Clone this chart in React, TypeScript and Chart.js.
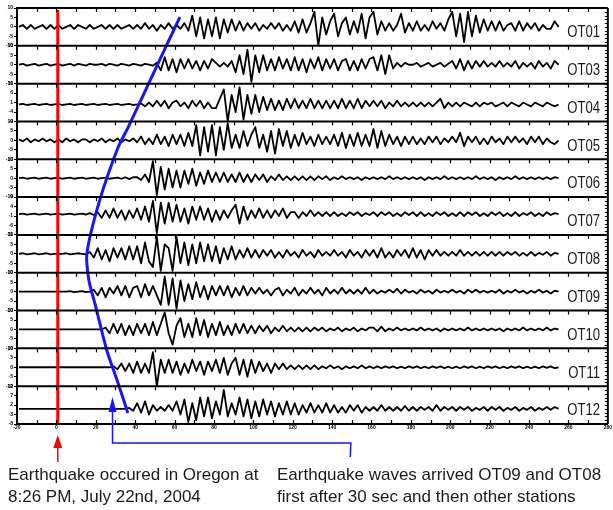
import React, { useEffect, useRef } from 'react';
import { Chart, registerables } from 'chart.js';

Chart.register(...registerables);

// ---- data ----
const stations = ['OT01', 'OT03', 'OT04', 'OT05', 'OT06', 'OT07', 'OT08', 'OT09', 'OT10', 'OT11', 'OT12'];
const T_START = -19; // seconds, first sample
const T_STEP = 2; // seconds between samples

const OT01 = [
  0,1,-1,1,-1,0,1,-1,1,-1, 1,-1,0,1,-1,1,0,-1,1,-1, 0,1,-1,1,-1,1,-1,0,1,-1, 1,-1,2,-1,1,-2,1,-1,2,-1,
  1,-1,2,-2,6,-5,5,-6,4,-5, 5,-6,4,-3,4,-2,3,-2,2,-1, 2,-2,1,-1,2,-1,2,-2,1,-2, 3,-3,4,-3,2,8,-10,5,-4,3,
  7,-5,2,5,-4,3,-3,7,-6,5, 8,-4,3,-2,2,-2,1,7,-3,2, -2,3,-2,1,-2,3,-1,2,-2,4, 8,-5,7,-8,8,-5,6,-3,4,-2,
  3,-2,3,-2,1,2,-2,3,-2,2, -1,2,-2,1,-1,-1,3,0,
];
const OT03 = [
  0,0.5,-0.5,0,0.5,-0.5,0,0.5,-0.5,0, 0.5,-0.5,0,0.5,-0.5,0.5,0,-0.5,0.5,0, 0,0.5,-0.5,0.5,0,-0.5,0.5,0,-0.5,0.5, 0,-0.5,0.5,0,-0.5,1,-3,4,-3,3,
  -4,3,-2,3,-2,2,-3,2,-2,3, 1,-1,1,-1,2,-4,5,-5,8,-9, 5,-4,5,-3,3,-3,4,-2,3,-3, 4,-3,3,-4,3,-2,4,-3,3,-2,
  3,-3,2,3,-3,2,-3,3,-2,3, 4,-3,5,-5,5,-2,1,-1,1,0, 0,1,-1,0,1,-1,0,1,-1,0.5, 2,-2,3,-3,2,-2,2,-1,2,-1,
  1,-1,2,-1,1,-1,2,-2,1,-1, 1,-2,2,-1,1,-2,2,0,
];
const OT04 = [
  0,0.3,-0.3,0,0.3,-0.3,0,0.3,-0.3,0, 0.3,-0.3,0,0.3,-0.3,0,0.3,-0.3,0,0.3, -0.3,0,0.3,-0.3,0,0.3,-0.3,0,0.3,-0.3, 0,0.5,-1,1,-1,2,-1,2,-2,1,
  2,-1,1,-2,2,-1,2,-2,1,-2, -2,3,8,-9,5,-4,9,-8,5,-5, 5,-4,4,-3,3,-3,2,-3,3,-2, 3,-2,2,-2,3,-2,2,-2,2,-2,
  2,-2,3,-2,2,-2,3,-2,2,-1, 2,-1,2,-2,1,-1,2,-1,1,-1, 1,-1,1,-1,1,-1,1,3,-2,1, -1,1,-1,1,0,-1,1,-1,1,0,
  1,-1,0,1,-1,1,0,-1,1,0, -1,1,0,-1,1,0,-1,0,
];
const OT05 = [
  0.5,-0.5,1,-1,0.5,-0.5,1,-0.5,0.5,-1, 0.5,-1,1,-0.5,0.5,-1,0.5,0.5,-1,0.5, -0.5,1,-1,0.5,-0.5,1,-1,0.5,-0.5,1, -1,2,-2,1,-2,3,-2,2,-3,3,
  -2,3,-3,4,-3,8,-8,7,-6,8, -8,7,-5,9,-4,3,-4,5,-3,3, 7,-4,3,-6,5,-7,6,-3,5,-4, 3,-3,4,-2,2,-3,3,-2,2,-2,
  3,-3,4,-4,3,-3,4,-3,3,-3, 6,-4,5,-3,3,-2,2,-3,2,-2, 2,-2,1,-2,2,-1,2,-2,1,-1, 2,-1,4,-3,2,-1,2,-2,1,-2,
  2,-1,1,-2,2,-1,2,-1,1,-2, 2,-1,2,-2,1,-1,-2,0,
];
const OT06 = [
  0,0.3,-0.3,0,0.3,-0.3,0,0.3,-0.3,0, 0.3,-0.3,0,0.3,-0.3,0,0.3,-0.3,0,0.3, -0.3,0,0.3,-0.3,0,0.3,-0.3,0.5,-0.5,0.5, 0.5,-1,2,-2,9,-9,6,-6,5,-5,
  4,-5,4,-3,5,-4,3,-3,4,-2, 3,-2,3,-2,2,-2,3,-2,2,-2, 2,-1,2,-2,1,-1,2,-1,1,-1, 1,-1,1,-1,1,-1,1,-0.5,1,-1,
  0.5,-0.5,1,-0.5,0.5,-0.5,0.5,-1,0.5,-0.5, 0.5,-0.5,0.5,-0.5,1,-0.5,0.5,-0.5,0.5,-0.5, 0.5,-0.5,0.5,-1,0.5,-0.5,0.5,-0.5,1,-0.5, 0.5,-0.5,0.5,-0.5,0.5,-0.5,1,-0.5,0.5,-0.5,
  0.5,-1,0.5,-0.5,0.5,-0.5,1,-0.5,0.5,-0.5, 0.5,-0.5,0.5,-0.5,0.5,-0.5,0.5,0,
];
const OT07 = [
  0,0.3,-0.3,0,0.3,-0.3,0,0.3,-0.3,0, 0.3,-0.3,0,0.3,-0.3,0,0.3,-0.3,0.5,-0.5, 1,-2,2,-2,3,-2,2,-3,2,-2, 3,-3,4,-4,7,-10,6,-5,6,-4,
  5,-4,3,-5,4,-3,4,-3,3,-4, 2,-3,2,-2,2,5,-5,4,-3,2, -2,3,-2,2,-2,2,-1,3,-2,1, 1,-2,1,-1,2,-1,1,-1,1,-1,
  1,-1,0.5,-1,1,-0.5,1,-1,0.5,-0.5, 1,-1,1,-0.5,1,-1,0.5,-1,1,-0.5, 1,-1,1,-1,0.5,-1,1,-0.5,1,-1, 0.5,-1,1,-1,1,-0.5,1,-1,0.5,-1,
  1,-0.5,1,-1,0.5,-1,1,-1,0.5,-0.5, 1,-1,0.5,-1,1,-0.5,0.5,0,
];
const OT08 = [
  0,0.3,-0.3,0,0.3,-0.3,0,0.3,-0.3,0, 0,0,0.3,-0.3,0,0.3,0,-0.3,1,-2, 3,-3,2,-4,3,-2,3,-3,4,-3, 4,-5,6,-4,-7,9,-9,5,3,-9,
  9,-5,6,-6,5,-5,6,-4,5,-4, 4,-5,3,-3,4,-3,2,-2,3,-2, 2,-2,2,-1,2,-2,1,-2,2,-1, 1,-2,2,-1,1,-2,2,-1,1,-1,
  2,-1,1,-2,2,-1,1,-2,2,-1, 2,-2,3,-2,1,-2,2,-1,2,-2, 3,-2,2,-3,2,-1,2,-1,1,-1, 1,-1,2,-1,1,-1,1,-1,1,-1,
  1,-1,1,-1,1,-0.5,1,-1,0.5,-1, 1,-1,0.5,-0.5,1,-1,0.5,0,
];
const OT09 = [
  0,0,0,0,0,0,0,0,0,0, 0,0,0,0.3,-0.3,0,0.3,-0.3,0,1, -2,2,-3,2,-1,3,-2,3,-3,2, 3,-3,4,-2,3,-2,-7,8,-7,7,
  -9,6,-5,4,-4,5,-3,3,-4,3, -2,3,-2,3,-3,2,-2,3,-2,2, -1,2,-1,1,-2,1,2,-2,1,-1, 2,-2,1,-1,2,-1,1,-2,2,-1,
  1,-1,2,-1,1,-1,1,-1,2,-1, 1,-1,0.5,-0.5,1,-0.5,1.5,-1,1,-0.5, 0.5,-1,1,-0.5,0.5,-1,1,-0.5,0.5,-0.5, 1,-0.5,0.5,-1,1,-0.5,1,-0.5,0.5,-0.5,
  0.5,-0.5,1,-1,0.5,-0.5,1,-0.5,0.5,-1, 0.5,-0.5,1,-0.5,0.5,-1,0.5,0,
];
const OT10 = [
  0,0,0,0,0,0,0,0,0,0, 0,0,0,0,0,0,0,0,0,0, 0,0,1,-2,3,-2,3,-3,2,-3, 3,-2,3,-3,4,-3,3,9,-2,-8,
  2,6,-4,3,-4,6,-3,5,-4,3, -3,4,-3,2,-3,3,-2,3,-2,2, -2,2,-1,2,-2,1,-1,2,-1,1, -1,1,-1,1,-1,1,-0.5,1,-1,0.5,
  -0.5,1,-1,0.5,-0.5,1,-1,0.5,-0.5,1, 1,-1,1.5,-1,0.5,-0.5,1,-0.5,0.5,-0.5, 0.5,-0.5,1,-0.5,0.5,-0.5,0.5,-1,0.5,-0.5, 0.5,-0.5,0.5,-0.5,1,-0.5,0.5,-0.5,0.5,-0.5,
  0.5,-0.5,0.5,-1,0.5,-0.5,0.5,-0.5,1,-0.5, 0.5,-0.5,0.5,-0.5,1,-0.5,0.5,0,
];
const OT11 = [
  0,0,0,0,0,0,0,0,0,0, 0,0,0,0,0,0,0,0,0,0, 0,0,0,0,0.5,-1,2,-2,2,-3, 3,-3,2,-3,8,-10,4,-3,4,-3,
  3,-4,2,-3,4,-2,3,-4,3,-2, 4,-3,5,-4,2,5,-4,4,-5,4, -3,3,-2,2,-3,2,-1,2,-1,1, -1,1,-1,1,-1,1,-1,0.5,-0.5,1,
  -0.5,0.5,-1,0.5,-0.5,0.5,-0.5,1,-0.5,0.5, -0.5,0.5,-0.5,0.5,-0.3,0.5,-0.5,0.3,-0.5,0.5, -0.3,0.5,-0.5,0.3,-0.5,0.5,-0.3,0.5,-0.5,0.3, -0.5,0.3,-0.5,0.5,-0.3,0.5,-0.5,0.3,-0.5,0.5,
  -0.3,0.5,-0.5,0.3,-0.5,0.5,-0.3,0.5,-0.5,0.3, -0.5,0.3,-0.5,0.5,-0.3,0.5,-0.5,0,
];
const OT12 = [
  0,0,0,0,0,0,0,0,0,0, 0,0,0,0,0,0,0,0,0,0, 0,0,0,0,0,0,0,0,0.5,-1, 3,-2,4,-3,2,-1,1,-1,2,-1,
  4,-3,5,-7,3,-6,6,-4,6,-5, 4,-3,10,-4,3,-3,6,-4,5,-5, 4,-4,5,-3,4,-4,3,-3,4,-3, 3,-3,2,-2,3,-2,2,-2,3,-2,
  2,-2,1,-2,2,-1,2,-2,1,-1, 1,-1,2,-1,1,-1,1,-1,1.5,-1, 1,-1,1,-0.5,1,-1,2,-1,1,-0.5, 1,-1,1,-0.5,1,-1,0.5,-0.5,1,-1,
  1,-0.5,1,-1,0.5,-0.5,1,-1,0.5,-0.5, 1,-1,0.5,-0.5,1,-0.5,1,0,
];
const traces = [OT01, OT03, OT04, OT05, OT06, OT07, OT08, OT09, OT10, OT11, OT12];

// per-panel amplitude axis limits [min, max]
const panelMin = [-10, -10, -9, -10, -10, -11, -10, -10, -10, -10, -8];
const panelMax = [10, 10, 11, 10, 10, 9, 10, 10, 10, 10, 12];

// time axis
const X_MIN = -20;
const X_MAX = 280;
const X_STEP = 20;

// earthquake origin time (s) and arrival-time curve (time s, panel position from top)
const originTime = 0.7;
const arrivalTimes = [62.7, 49.5, 36.3, 31.2, 22, 15.5, 16.5, 19.5, 25.6, 30.8, 36.3];
const arrivalRows = [0.24, 1.7, 3.17, 3.7, 5.08, 6.48, 7.2, 7.8, 9.05, 9.84, 10.71];
const bracketFrom = 28.5;
const bracketTo = 149.5;

const captionLeft = ['Earthquake occured in Oregon at', '8:26 PM, July 22nd, 2004'];
const captionRight = ['Earthquake waves arrived OT09 and OT08', 'first after 30 sec and then other stations'];

const FONT = '"Liberation Sans", Arial, Helvetica, sans-serif';

const framePlugin = {
  id: 'seismoFrame',
  afterDraw(chart: any) {
    const { ctx, chartArea, scales } = chart;
    const xs = scales.x;
    const { left, right, top, bottom } = chartArea;
    ctx.save();
    ctx.strokeStyle = '#000';
    ctx.fillStyle = '#000';
    for (let i = 0; i < stations.length; i++) {
      const s = scales['p' + i];
      ctx.lineWidth = 2;
      ctx.beginPath();
      ctx.moveTo(left, s.top);
      ctx.lineTo(right, s.top);
      ctx.stroke();
      ctx.lineWidth = 1.2;
      for (let v = X_MIN + 10; v < X_MAX; v += 10) {
        const px = Math.round(xs.getPixelForValue(v)) + 0.5;
        ctx.beginPath();
        ctx.moveTo(px, s.top);
        ctx.lineTo(px, s.top + 4);
        ctx.stroke();
      }
      ctx.lineWidth = 1;
      for (let v = Math.ceil(s.min); v <= s.max; v += 2) {
        const py = Math.round(s.getPixelForValue(v)) + 0.5;
        ctx.beginPath();
        ctx.moveTo(right - 3, py);
        ctx.lineTo(right, py);
        ctx.stroke();
      }
      const yc = (s.top + s.bottom) / 2 + 10.3;
      ctx.save();
      ctx.fillStyle = '#1a1a1a';
      ctx.font = '16px ' + FONT;
      ctx.textAlign = 'right';
      ctx.textBaseline = 'alphabetic';
      ctx.translate(600, yc);
      ctx.scale(0.82, 1);
      ctx.fillText(stations[i], 0, 0);
      ctx.restore();
    }
    ctx.lineWidth = 1.2;
    for (let v = X_MIN + 10; v < X_MAX; v += 10) {
      const px = Math.round(xs.getPixelForValue(v)) + 0.5;
      ctx.beginPath();
      ctx.moveTo(px, bottom);
      ctx.lineTo(px, bottom - 4);
      ctx.stroke();
    }
    ctx.lineWidth = 2;
    ctx.beginPath();
    ctx.moveTo(left, bottom);
    ctx.lineTo(right, bottom);
    ctx.moveTo(right, top);
    ctx.lineTo(right, bottom);
    ctx.moveTo(left, top);
    ctx.lineTo(left, bottom);
    ctx.stroke();

    // red arrow for origin time
    const xr = xs.getPixelForValue(originTime);
    ctx.strokeStyle = '#ff0000';
    ctx.fillStyle = '#ff0000';
    ctx.lineWidth = 1.5;
    ctx.beginPath();
    ctx.moveTo(xr, bottom + 38);
    ctx.lineTo(xr, bottom + 23);
    ctx.stroke();
    ctx.beginPath();
    ctx.moveTo(xr, bottom + 11);
    ctx.lineTo(xr - 4.5, bottom + 24);
    ctx.lineTo(xr + 4.5, bottom + 24);
    ctx.closePath();
    ctx.fill();

    // blue bracket arrow
    const xa = xs.getPixelForValue(bracketFrom);
    const xb = xs.getPixelForValue(bracketTo);
    ctx.strokeStyle = '#1515ff';
    ctx.fillStyle = '#1515ff';
    ctx.lineWidth = 1.5;
    ctx.beginPath();
    ctx.moveTo(xb - 0.5, bottom + 33);
    ctx.lineTo(xb, bottom + 19);
    ctx.lineTo(xa, bottom + 19);
    ctx.lineTo(xa, bottom - 14);
    ctx.stroke();
    ctx.beginPath();
    ctx.moveTo(xa, bottom - 27);
    ctx.lineTo(xa - 4, bottom - 12);
    ctx.lineTo(xa + 4, bottom - 12);
    ctx.closePath();
    ctx.fill();
    ctx.restore();
  },
};

export default function App() {
  const ref = useRef<HTMLCanvasElement | null>(null);

  useEffect(() => {
    document.body.style.margin = '0';
    if (!ref.current) return;

    const scales: any = {
      x: {
        type: 'linear',
        position: 'bottom',
        min: X_MIN,
        max: X_MAX,
        ticks: {
          stepSize: X_STEP,
          autoSkip: false,
          maxRotation: 0,
          padding: 1,
          color: '#000',
          font: { size: 5, weight: 'bold', family: FONT },
        },
        grid: { display: false, drawTicks: false },
        border: { display: true, color: '#000', width: 2 },
        afterFit: (s: any) => {
          s.height = 10;
        },
      },
      yAll: { type: 'linear', display: false, min: 0, max: 11, reverse: true },
    };
    for (let i = stations.length - 1; i >= 0; i--) {
      scales['p' + i] = {
        type: 'linear',
        position: 'left',
        stack: 'traces',
        stackWeight: 1,
        min: panelMin[i],
        max: panelMax[i],
        ticks: {
          stepSize: 5,
          autoSkip: false,
          padding: 1,
          color: '#000',
          font: { size: 5, weight: 'bold', family: FONT },
        },
        grid: { display: true, drawOnChartArea: false, drawTicks: true, tickLength: 3, color: '#000', lineWidth: 1 },
        border: { display: true, color: '#000', width: 2 },
        afterFit: (s: any) => {
          s.width = 17;
        },
      };
    }

    const datasets: any[] = [
      {
        label: 'arrival',
        data: arrivalTimes.map((t, k) => ({ x: t, y: arrivalRows[k] })),
        xAxisID: 'x',
        yAxisID: 'yAll',
        borderColor: '#1515ff',
        borderWidth: 3,
        pointRadius: 0,
        tension: 0.3,
      },
      {
        label: 'origin',
        data: [
          { x: originTime, y: 0.05 },
          { x: originTime, y: 11 },
        ],
        xAxisID: 'x',
        yAxisID: 'yAll',
        borderColor: '#ff0000',
        borderWidth: 3,
        pointRadius: 0,
      },
      ...traces.map((vals, i) => ({
        label: stations[i],
        data: vals.map((v, k) => ({ x: T_START + k * T_STEP, y: v })),
        xAxisID: 'x',
        yAxisID: 'p' + i,
        borderColor: '#000',
        borderWidth: 1.8,
        pointRadius: 0,
        tension: 0,
        borderJoinStyle: 'round',
      })),
    ];

    const chart = new Chart(ref.current, {
      type: 'line',
      data: { datasets },
      options: {
        animation: false,
        responsive: false,
        maintainAspectRatio: false,
        events: [],
        layout: { padding: { left: 0, right: 5, top: 8, bottom: 76 } },
        plugins: { legend: { display: false }, tooltip: { enabled: false }, title: { display: false } },
        scales,
      },
      plugins: [framePlugin],
    } as any);

    return () => chart.destroy();
  }, []);

  const capStyle: React.CSSProperties = {
    position: 'absolute',
    top: 464,
    fontFamily: FONT,
    fontSize: 17,
    lineHeight: '22px',
    color: '#1a1a1a',
    whiteSpace: 'nowrap',
  };

  return (
    <div style={{ position: 'relative', width: 613, height: 510, background: '#fff' }}>
      <canvas ref={ref} width={613} height={510} style={{ position: 'absolute', left: 0, top: 0, width: 613, height: 510 }} />
      <div style={{ ...capStyle, left: 8 }}>
        {captionLeft[0]}
        <br />
        {captionLeft[1]}
      </div>
      <div style={{ ...capStyle, left: 277 }}>
        {captionRight[0]}
        <br />
        {captionRight[1]}
      </div>
    </div>
  );
}
